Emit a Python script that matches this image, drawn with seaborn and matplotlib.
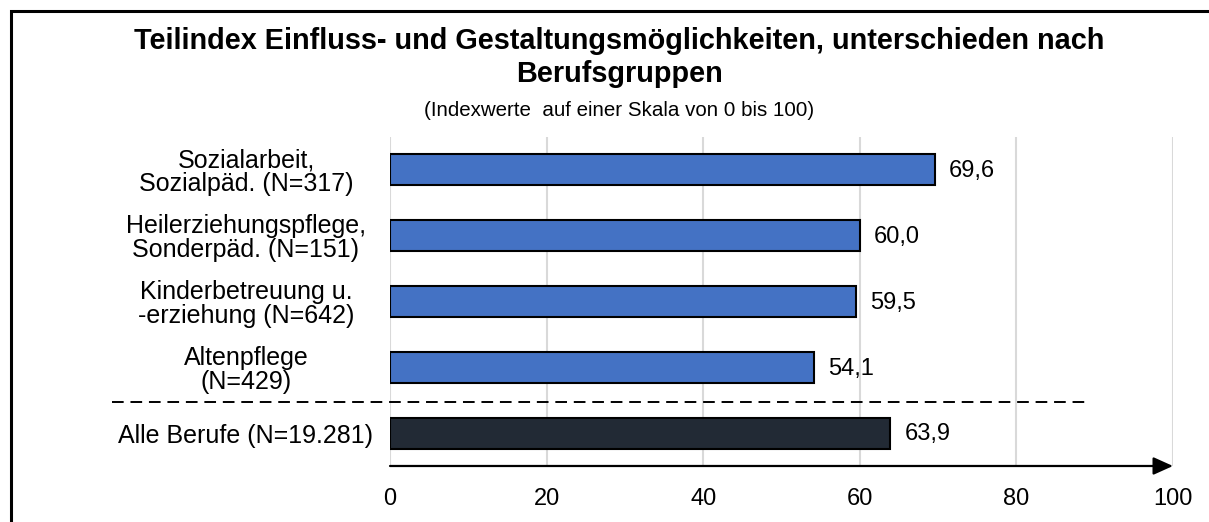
import matplotlib
matplotlib.use("Agg")
import matplotlib.pyplot as plt
import seaborn as sns
import pandas as pd
from matplotlib.patches import Rectangle

# data
categories = [
    "Sozialarbeit,\nSozialpäd. (N=317)",
    "Heilerziehungspflege,\nSonderpäd. (N=151)",
    "Kinderbetreuung u.\n-erziehung (N=642)",
    "Altenpflege\n(N=429)",
    "Alle Berufe (N=19.281)",
]
values = [69.6, 60.0, 59.5, 54.1, 63.9]
bar_colours = ["#4472C4", "#4472C4", "#4472C4", "#4472C4", "#222A35"]
x_ticks = [0, 20, 40, 60, 80, 100]

title = "Teilindex Einfluss- und Gestaltungsmöglichkeiten, unterschieden nach\nBerufsgruppen"
subtitle = "(Indexwerte  auf einer Skala von 0 bis 100)"

sns.set_theme(style="white")
plt.rcParams["font.family"] = ["Liberation Sans", "DejaVu Sans"]
plt.rcParams["text.color"] = "black"
plt.rcParams["xtick.color"] = "black"
plt.rcParams["ytick.color"] = "black"

df = pd.DataFrame({"cat": categories, "val": values})

fig = plt.figure(figsize=(12.09, 5.22), dpi=100)
ax = fig.add_axes([0.3226, 0.1073, 0.6476, 0.6303])

sns.barplot(data=df, y="cat", x="val", hue="cat", palette=bar_colours,
            saturation=1, legend=False, orient="h", width=0.47,
            edgecolor="black", linewidth=1.5, ax=ax, zorder=3)

ax.set_xlim(0, 100)
ax.set_ylim(4.5, -0.5)
ax.set_xticks(x_ticks)
ax.set_xticklabels([str(t) for t in x_ticks], fontsize=17)
ax.set_yticks(range(len(categories)))
ax.set_yticklabels(categories, fontsize=18, ha="center", linespacing=1.0)
ax.tick_params(axis="y", length=0, pad=103.7)
ax.tick_params(axis="x", length=0, pad=15.5)
ax.set_xlabel("")
ax.set_ylabel("")
ax.grid(axis="x", color="#D9D9D9", linewidth=1.5, zorder=0)
ax.grid(axis="y", visible=False)
for s in ["top", "right", "left", "bottom"]:
    ax.spines[s].set_visible(False)

# value labels
for i, v in enumerate(values):
    ax.text(v + 1.8, i + 0.02, f"{v:.1f}".replace(".", ","), va="center",
            ha="left", fontsize=17, color="black")

# x axis with arrow
ax.annotate("", xy=(1.0, 0), xytext=(0, 0), xycoords="axes fraction",
            textcoords="axes fraction",
            arrowprops=dict(arrowstyle="-|>,head_length=1.0,head_width=0.45",
                            color="black", lw=1.6, shrinkA=0, shrinkB=0),
            annotation_clip=False)

# dashed separator
ax.plot([-35.5, 89.3], [3.53, 3.53], color="black", lw=1.4,
        linestyle=(0, (6, 3.5)), clip_on=False, zorder=4)

fig.text(0.512, 0.948, title, ha="center", va="top", fontsize=20.8,
         fontweight="bold", linespacing=1.2)
fig.text(0.512, 0.789, subtitle, ha="center", va="center", fontsize=14.8)

# frame around the figure
fig.patches.append(Rectangle((11 / 1209, -0.1), 1.2, 0.1 + (522 - 11) / 522,
                             transform=fig.transFigure, fill=False,
                             edgecolor="black", linewidth=2.2))

fig.savefig("out.png", dpi=100)
